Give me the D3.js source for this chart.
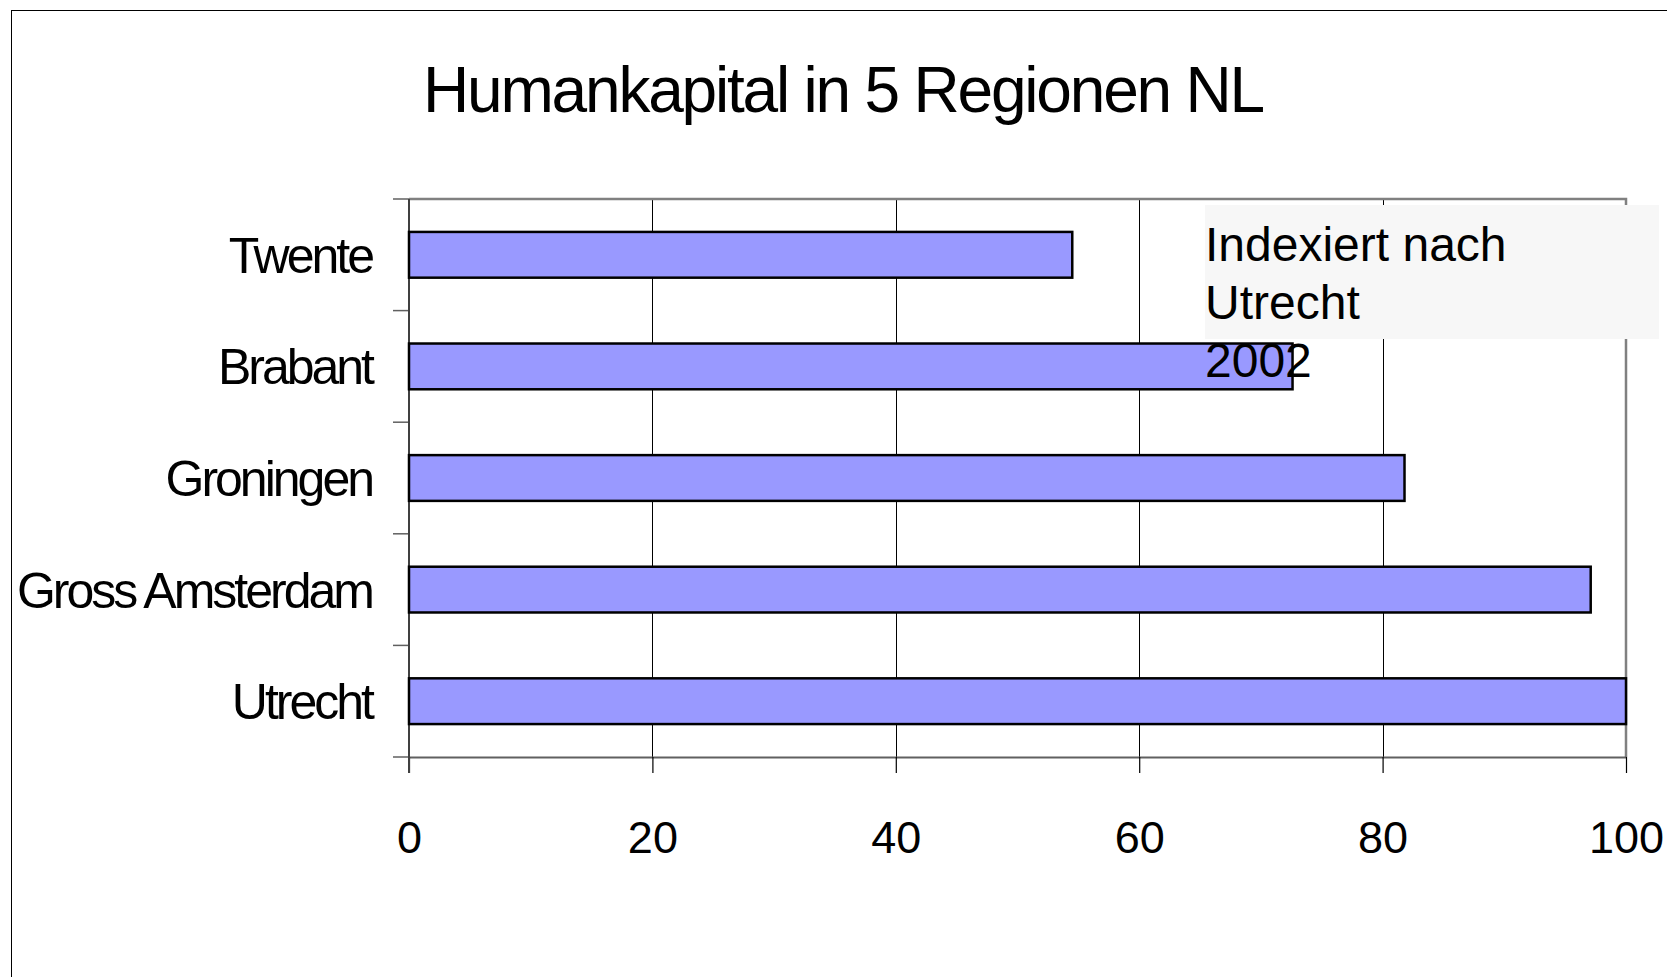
<!DOCTYPE html>
<html>
<head>
<meta charset="utf-8">
<script src="https://cdn.jsdelivr.net/npm/d3@7"></script>
<style>
  body { margin: 0; background: #fff; }
  text { font-family: "Liberation Sans", Arial, sans-serif; fill: #000; }
</style>
</head>
<body>
<div class="chart"></div>
<script>
var regions = ['Twente', 'Brabant', 'Groningen', 'Gross Amsterdam', 'Utrecht']
var values = [54.5, 72.6, 81.8, 97.1, 100]
var xTicks = [0, 20, 40, 60, 80, 100]
var title = 'Humankapital in 5 Regionen NL'
var note = ['Indexiert nach', 'Utrecht', '2002']

var width = 1667
var height = 977
var margin = { top: 199, right: 41, bottom: 220, left: 409 }

var svg = d3.select('.chart')
  .append('svg')
    .attr('width', width)
    .attr('height', height)

// outer frame, cut off at right and bottom
svg.append('rect')
  .attr('x', 11.5)
  .attr('y', 10.5)
  .attr('width', 1700)
  .attr('height', 1000)
  .style('fill', 'none')
  .style('stroke', '#000')
  .style('stroke-width', 1)

svg.append('text')
  .attr('x', 843)
  .attr('y', 112)
  .attr('text-anchor', 'middle')
  .style('font-size', '64px')
  .style('letter-spacing', '-2.2px')
  .text(title)

var x = d3.scaleLinear()
  .domain([0, 100])
  .range([margin.left, width - margin.right])

var y = d3.scaleBand()
  .domain(regions)
  .range([margin.top, height - margin.bottom])
  .paddingInner(0.59)
  .paddingOuter(0.295)

var yEdge = d3.scaleLinear()
  .domain([0, regions.length])
  .range([margin.top, height - margin.bottom])

// vertical gridlines
svg.append('g')
  .selectAll('line')
  .data(xTicks.slice(1, -1))
  .enter()
    .append('line')
    .attr('x1', d => Math.round(x(d)) + 0.5)
    .attr('x2', d => Math.round(x(d)) + 0.5)
    .attr('y1', margin.top)
    .attr('y2', height - margin.bottom)
    .style('stroke', '#000')
    .style('stroke-width', 1)

// top and right frame of plot area
svg.append('path')
  .attr('d', `M${x(0)},${margin.top}H${x(100)}V${height - margin.bottom}`)
  .style('fill', 'none')
  .style('stroke', '#808080')
  .style('stroke-width', 2.5)

// x axis
var xAxis = svg.append('g')
  .attr('transform', `translate(0,${height - margin.bottom})`)
  .call(d3.axisBottom(x).tickValues(xTicks).tickSize(16).tickPadding(48).tickSizeOuter(0))

xAxis.select('.domain').style('stroke', '#606060').style('stroke-width', 2)
xAxis.selectAll('.tick line').style('stroke', '#000').style('stroke-width', 1.2)
xAxis.selectAll('.tick text')
  .style('font-size', '45px')
  .style('font-family', '"Liberation Sans", Arial, sans-serif')
  .attr('fill', '#000')

// y axis ticks at band edges
svg.append('g')
  .selectAll('line')
  .data(d3.range(regions.length + 1))
  .enter()
    .append('line')
    .attr('x1', x(0) - 16)
    .attr('x2', x(0))
    .attr('y1', d => yEdge(d))
    .attr('y2', d => yEdge(d))
    .style('stroke', '#606060')
    .style('stroke-width', 1.5)

svg.append('line')
  .attr('x1', x(0))
  .attr('x2', x(0))
  .attr('y1', margin.top)
  .attr('y2', height - margin.bottom + 16)
  .style('stroke', '#404040')
  .style('stroke-width', 2)

// bars
svg.append('g')
  .selectAll('rect')
  .data(values)
  .enter()
    .append('rect')
    .attr('x', x(0))
    .attr('y', (d, i) => y(regions[i]))
    .attr('width', d => x(d) - x(0))
    .attr('height', y.bandwidth())
    .style('fill', '#9999ff')
    .style('stroke', '#000')
    .style('stroke-width', 2.5)

// category labels
svg.append('g')
  .selectAll('text')
  .data(regions)
  .enter()
    .append('text')
    .attr('x', 372)
    .attr('y', d => y(d) + y.bandwidth() / 2)
    .attr('dy', '0.36em')
    .attr('text-anchor', 'end')
    .style('font-size', '50px')
    .style('letter-spacing', '-3px')
    .text(d => d)

// note box
svg.append('rect')
  .attr('x', 1205)
  .attr('y', 205)
  .attr('width', 454)
  .attr('height', 134)
  .style('fill', '#f7f7f7')

svg.append('g')
  .selectAll('text')
  .data(note)
  .enter()
    .append('text')
    .attr('x', 1205)
    .attr('y', (d, i) => 261 + i * 58)
    .style('font-size', '48px')
    .text(d => d)
</script>
</body>
</html>
